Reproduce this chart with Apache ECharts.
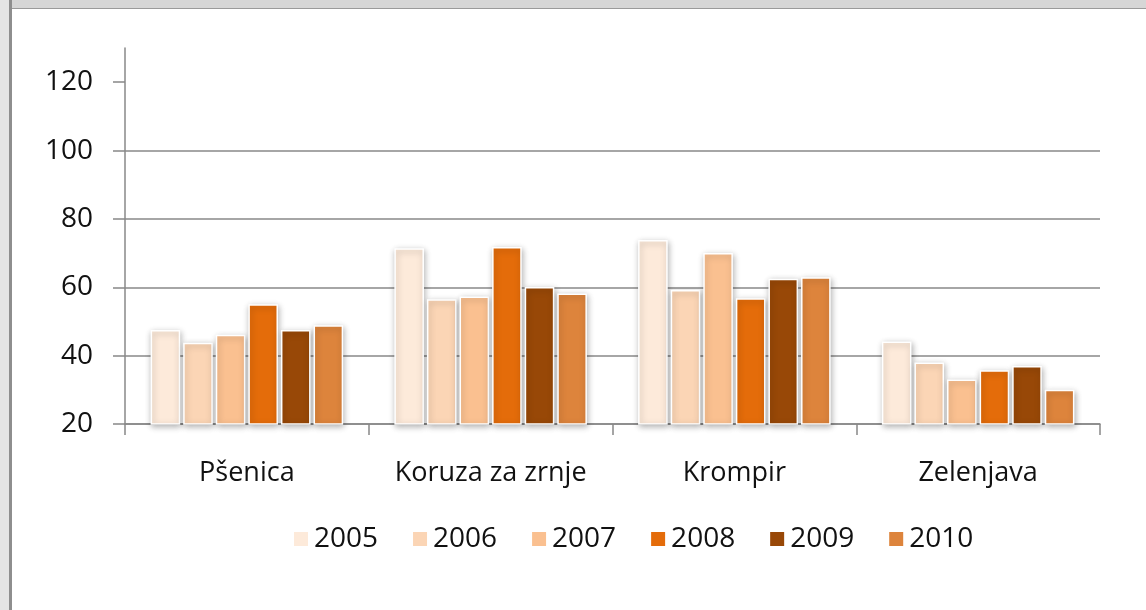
<!DOCTYPE html>
<html lang="sl">
<head>
    <meta charset="UTF-8">
    <title>ECharts</title>
    <style>
        html, body { margin: 0; padding: 0; background: #fff; }
        #main { position: absolute; left: 0; top: 0; width: 1146px; height: 610px; }
        .frameTop { position: absolute; left: 0; top: 0; width: 1146px; height: 8px; background: #d6d6d6; border-bottom: 1px solid #9a9a9a; }
        .frameLeft { position: absolute; left: 0; top: 0; width: 9px; height: 610px; background: #e4e4e4; border-right: 3px solid #8e8e8e; }
    </style>
</head>
<body>
<div id="main"></div>
<div class="frameTop"></div>
<div class="frameLeft"></div>
<script src="https://cdn.jsdelivr.net/npm/echarts@6/dist/echarts.min.js"></script>
<script>
    var categories = ['Pšenica', 'Koruza za zrnje', 'Krompir', 'Zelenjava'];
    var years = ['2005', '2006', '2007', '2008', '2009', '2010'];
    var colors = ['#FDEADA', '#FBD5B5', '#FAC090', '#E46C0A', '#984807', '#DD843C'];

    var v2005 = [47.5, 71.4, 73.8, 44.1];
    var v2006 = [43.8, 56.5, 59.2, 38.0];
    var v2007 = [46.1, 57.3, 70.0, 33.0];
    var v2008 = [55.0, 71.8, 56.8, 35.7];
    var v2009 = [47.5, 60.1, 62.5, 37.0];
    var v2010 = [48.9, 58.2, 62.9, 30.0];
    var values = [v2005, v2006, v2007, v2008, v2009, v2010];

    var yTicks = [20, 40, 60, 80, 100, 120];

    var myChart = echarts.init(document.getElementById('main'));

    var series = [];
    for (var i = 0; i < years.length; i++) {
        series.push({
            name: years[i],
            type: 'bar',
            data: values[i],
            barGap: '10%',
            barCategoryGap: '21%',
            itemStyle: {
                color: colors[i],
                borderColor: '#ffffff',
                borderWidth: 1.5,
                shadowBlur: 6,
                shadowColor: 'rgba(0,0,0,0.3)',
                shadowOffsetX: 1,
                shadowOffsetY: 2
            }
        });
    }

    var option = {
        backgroundColor: '#ffffff',
        animation: false,
        color: colors,
        textStyle: { fontFamily: 'Open Sans' },
        legend: {
            data: years,
            bottom: 52,
            left: 287,
            itemWidth: 16,
            itemHeight: 16,
            itemGap: 33,
            icon: 'rect',
            textStyle: { fontSize: 28, color: '#111', fontFamily: 'Open Sans' }
        },
        grid: {
            left: 125,
            right: 46,
            top: 48,
            bottom: 186
        },
        xAxis: {
            type: 'category',
            data: categories,
            axisLine: { lineStyle: { color: '#888', width: 1.5 } },
            axisTick: { show: true, interval: 0, length: 11, alignWithLabel: false, lineStyle: { color: '#888', width: 1.5 } },
            axisLabel: { interval: 0, fontSize: 27, color: '#111', margin: 36 }
        },
        yAxis: {
            type: 'value',
            min: 20,
            max: 130,
            interval: 20,
            axisLine: { show: true, lineStyle: { color: '#888', width: 1.5 } },
            axisTick: { show: true, length: 12, customValues: yTicks, lineStyle: { color: '#888', width: 1.5 } },
            axisLabel: { fontSize: 28, color: '#111', margin: 32, customValues: yTicks },
            splitLine: { show: true, showMaxLine: false, lineStyle: { color: '#888', width: 1.5 } }
        },
        series: series
    };

    myChart.setOption(option);
</script>
</body>
</html>
